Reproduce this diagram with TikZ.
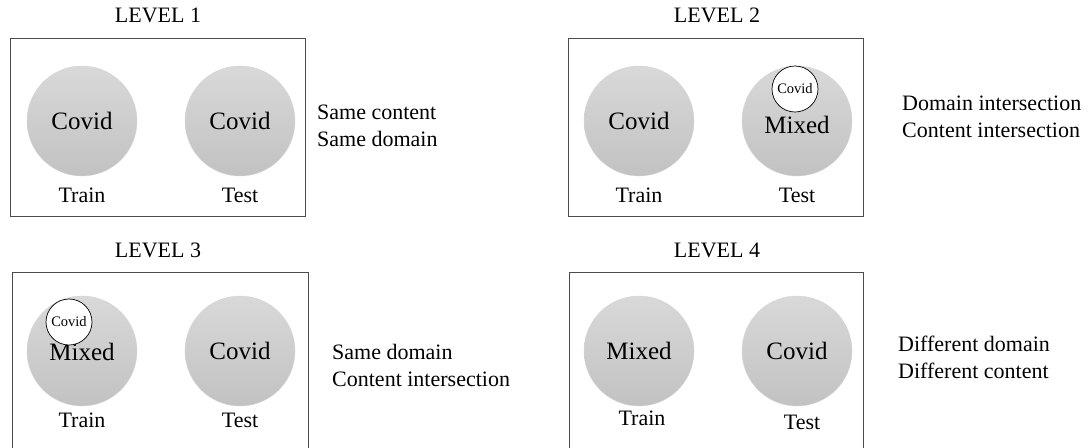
\documentclass[tikz,border=0pt]{standalone}
\usepackage{fontspec}
\setmainfont{Liberation Serif}
\tikzset{panel/.style = {draw=black!70, line width=0.8pt}}
\tikzset{blob/.style = {circle, minimum size=110pt, inner sep=0pt, top color=black!15, bottom color=black!24, draw=black!17, font=\fontsize{25}{30}\selectfont}}
\tikzset{inset/.style = {circle, minimum size=46pt, inner sep=0pt, fill=white, draw=black, line width=0.7pt, font=\fontsize{14.5}{17}\selectfont}}
\tikzset{lbl/.style = {inner sep=0pt, text height=0.68em, text depth=0.18em, font=\fontsize{22}{27}\selectfont}}
\tikzset{note/.style = {inner sep=0pt, anchor=west, align=left, font=\fontsize{22}{27}\selectfont}}

\begin{document}
\begin{tikzpicture}[x=1pt, y=-1pt]
          \useasboundingbox (0,0) rectangle (1091,447);
          \clip (0,0) rectangle (1091,447);

          % level 1
          \node[lbl] (T1) at (158, 20) {LEVEL 1};
          \draw[panel] (10, 38) rectangle (305, 216);
          \node[blob] (L1a) at (82, 121) {Covid};
          \node[blob] (L1b) at (240, 121) {Covid};
          \node[lbl] (L1tr) at (82, 200) {Train};
          \node[lbl] (L1te) at (240, 200) {Test};
          \node[note] (N1) at (317, 126) {Same content\\Same domain};

          % level 2
          \node[lbl] (T2) at (717, 20) {LEVEL 2};
          \draw[panel] (568, 38) rectangle (863, 216);
          \node[blob] (L2a) at (639, 121) {Covid};
          \node[blob] (L2b) at (797, 121) {};
          \node[lbl] (L2m) at (797, 131) {\fontsize{25}{30}\selectfont Mixed};
          \node[inset] (L2c) at (795, 89) {Covid};
          \node[lbl] (L2tr) at (639, 200) {Train};
          \node[lbl] (L2te) at (797, 200) {Test};
          \node[note] (N2) at (902, 117) {Domain intersection\\Content intersection};

          % level 3
          \node[lbl] (T3) at (158, 255) {LEVEL 3};
          \draw[panel] (12, 272) rectangle (308, 460);
          \node[blob] (L3a) at (82, 351) {};
          \node[lbl] (L3m) at (82, 358) {\fontsize{25}{30}\selectfont Mixed};
          \node[inset] (L3c) at (69, 322) {Covid};
          \node[blob] (L3b) at (240, 351) {Covid};
          \node[lbl] (L3tr) at (82, 425) {Train};
          \node[lbl] (L3te) at (240, 425) {Test};
          \node[note] (N3) at (332, 365) {Same domain\\Content intersection};

          % level 4
          \node[lbl] (T4) at (717, 255) {LEVEL 4};
          \draw[panel] (569, 272) rectangle (863, 460);
          \node[blob] (L4a) at (639, 351) {Mixed};
          \node[blob] (L4b) at (797, 351) {Covid};
          \node[lbl] (L4tr) at (642, 423) {Train};
          \node[lbl] (L4te) at (802, 427) {Test};
          \node[note] (N4) at (898, 357) {Different domain\\Different content};
\end{tikzpicture}
\end{document}
